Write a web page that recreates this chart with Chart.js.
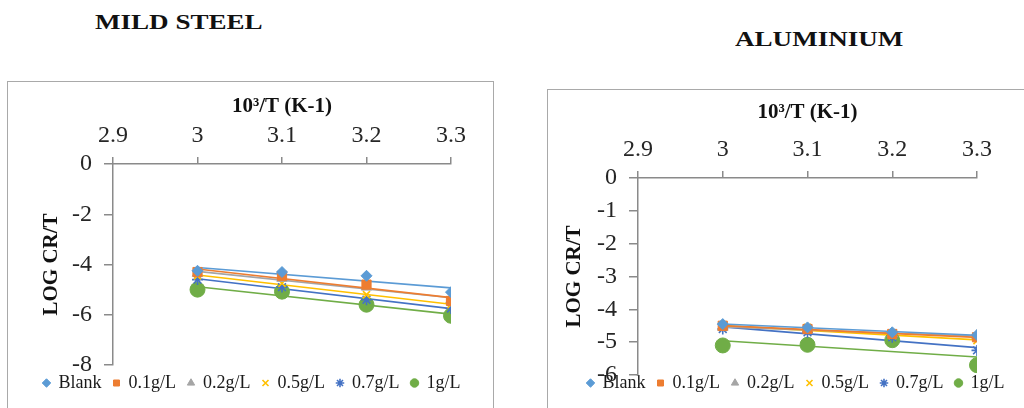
<!DOCTYPE html>
<html>
<head>
<meta charset="utf-8">
<script src="https://cdn.jsdelivr.net/npm/chart.js@4.4.0/dist/chart.umd.min.js"></script>
<style>
  html, body { margin: 0; padding: 0; background: #fff; }
  body { width: 1024px; height: 408px; overflow: hidden; position: relative; font-family: "Liberation Serif", "Times New Roman", serif; }
  .frame { position: absolute; border: 1px solid #a9a9a9; box-sizing: border-box; }
  .title { position: absolute; font-weight: bold; font-size: 22px; line-height: 22px; white-space: nowrap; color: #111;
           transform-origin: left center; transform: scaleX(1.23); }
  .panel { position: absolute; }
  canvas { display: block; }
</style>
</head>
<body>
<div class="frame" style="left:7px; top:81px; width:487px; height:360px;"></div>
<div class="frame" style="left:547px; top:89px; width:500px; height:360px;"></div>
<div class="title" style="left:95px; top:11px;">MILD STEEL</div>
<div class="title" style="left:735px; top:28px;">ALUMINIUM</div>
<div class="panel" style="left:8px; top:82px;"><canvas id="steel" width="484" height="326"></canvas></div>
<div class="panel" style="left:548px; top:90px;"><canvas id="alu" width="476" height="318"></canvas></div>

<script>
// Inhibitor concentrations and reciprocal temperature (10^3/T, K^-1)
const seriesNames = ['Blank', '0.1g/L', '0.2g/L', '0.5g/L', '0.7g/L', '1g/L'];
const invTemp = [3.0, 3.1, 3.2, 3.3];
const xTickValues = [2.9, 3.0, 3.1, 3.2, 3.3];
const steelYTicks = [0, -2, -4, -6, -8];
const aluYTicks = [0, -1, -2, -3, -4, -5, -6];

// log(CR/T) for mild steel
const steelBlank = [-4.25, -4.30, -4.45, -5.10];
const steel01 = [-4.30, -4.45, -4.80, -5.45];
const steel02 = [-4.35, -4.55, -4.90, -5.40];
const steel05 = [-4.45, -4.75, -5.20, -5.60];
const steel07 = [-4.60, -4.90, -5.40, -5.75];
const steel1 = [-5.00, -5.08, -5.60, -6.04];

// log(CR/T) for aluminium
const aluBlank = [-4.45, -4.55, -4.70, -4.78];
const alu01 = [-4.50, -4.60, -4.75, -4.85];
const alu02 = [-4.55, -4.60, -4.75, -4.80];
const alu05 = [-4.55, -4.55, -4.80, -4.95];
const alu07 = [-4.60, -4.70, -4.85, -5.25];
const alu1 = [-5.10, -5.08, -4.94, -5.70];

// marker look of each series
const seriesColors = ['#5b9bd5', '#ed7d31', '#a5a5a5', '#ffc000', '#4472c4', '#70ad47'];
const seriesMarkers = ['rectRot', 'rect', 'triangle', 'crossRot', 'star', 'circle'];
const markerRadius = [5.5, 6.5, 6, 5, 5.5, 7.5];

const SERIF = '"Liberation Serif", "Times New Roman", serif';

// least-squares straight line through a series, evaluated at the ends of the x range
function trendLine(xs, ys) {
  const n = xs.length;
  const mx = xs.reduce((a, b) => a + b, 0) / n;
  const my = ys.reduce((a, b) => a + b, 0) / n;
  let sxy = 0, sxx = 0;
  for (let i = 0; i < n; i++) { sxy += (xs[i] - mx) * (ys[i] - my); sxx += (xs[i] - mx) ** 2; }
  const slope = sxy / sxx;
  const x0 = Math.min(...xs), x1 = Math.max(...xs);
  return [{ x: x0, y: my + slope * (x0 - mx) }, { x: x1, y: my + slope * (x1 - mx) }];
}

function buildDatasets(seriesValues) {
  const points = seriesValues.map((vals, i) => ({
    label: seriesNames[i],
    data: invTemp.map((x, k) => ({ x: x, y: vals[k] })),
    showLine: false,
    pointStyle: seriesMarkers[i],
    pointRadius: markerRadius[i],
    pointBackgroundColor: seriesColors[i],
    pointBorderColor: seriesColors[i],
    pointBorderWidth: (seriesMarkers[i] === 'crossRot' || seriesMarkers[i] === 'star') ? 1.6 : 1,
    backgroundColor: seriesColors[i],
    borderColor: seriesColors[i],
    order: 0
  }));
  const lines = seriesValues.map((vals, i) => ({
    label: seriesNames[i] + ' trend',
    isTrend: true,
    data: trendLine(invTemp, vals),
    showLine: true,
    pointRadius: 0,
    borderColor: seriesColors[i],
    borderWidth: 1.6,
    order: 1
  }));
  return points.concat(lines);
}

// moves the legend row to a fixed centre once the layout is known
const legendPlace = {
  id: 'legendPlace',
  afterLayout(chart, args, opts) {
    const lg = chart.legend;
    if (!lg || opts.cx === undefined) return;
    const lp = lg.options.labels.padding;
    const fs = lg.options.labels.font.size;
    const dy = opts.cy - (lg.top + lp + fs / 2);
    const dx = opts.cx - (lg.left + lg.right) / 2;
    lg.top += dy; lg.bottom += dy;
    lg.left += dx; lg.right += dx;
  }
};

function makeChart(id, seriesValues, yTicks, g) {
  const axisGrey = '#8a8a8a';
  return new Chart(document.getElementById(id), {
    type: 'scatter',
    data: { datasets: buildDatasets(seriesValues) },
    plugins: [legendPlace],
    options: {
      responsive: false,
      animation: false,
      devicePixelRatio: 1,
      layout: { padding: { left: 0, right: 0, top: 0, bottom: g.padBottom } },
      plugins: {
        tooltip: { enabled: false },
        legendPlace: { cx: g.legendX, cy: g.legendY },
        legend: {
          position: 'bottom',
          labels: {
            usePointStyle: true,
            boxWidth: 6,
            boxHeight: 6,
            padding: 12,
            color: '#1a1a1a',
            font: { family: SERIF, size: 18 },
            filter: (item, data) => !data.datasets[item.datasetIndex].isTrend
          }
        }
      },
      scales: {
        x: {
          type: 'linear',
          position: 'top',
          min: xTickValues[0],
          max: xTickValues[xTickValues.length - 1],
          afterBuildTicks: s => { s.ticks = xTickValues.map(v => ({ value: v })); },
          afterFit: s => { s.height = g.xAxisHeight; },
          ticks: {
            autoSkip: false,
            maxRotation: 0,
            padding: 7,
            color: '#262626',
            font: { family: SERIF, size: 24 },
            callback: v => String(Math.round(v * 10) / 10)
          },
          grid: { drawOnChartArea: false, drawTicks: true, tickLength: 7, color: axisGrey, lineWidth: 1.5 },
          border: { display: true, color: axisGrey, width: 1.5 },
          title: {
            display: true,
            text: '10³/T (K-1)',
            color: '#111',
            font: { family: SERIF, size: 21, weight: 'bold' },
            padding: { top: g.xTitlePad, bottom: 0 }
          }
        },
        y: {
          type: 'linear',
          position: 'left',
          min: Math.min(...yTicks),
          max: Math.max(...yTicks),
          afterBuildTicks: s => { s.ticks = yTicks.slice().reverse().map(v => ({ value: v })); },
          afterFit: s => { s.width = g.yAxisWidth; },
          ticks: {
            autoSkip: false,
            padding: 12,
            color: '#262626',
            font: { family: SERIF, size: 24 },
            callback: v => String(v)
          },
          grid: { drawOnChartArea: false, drawTicks: true, tickLength: 9, color: axisGrey, lineWidth: 1.5 },
          border: { display: true, color: axisGrey, width: 1.5 },
          title: {
            display: true,
            text: 'LOG CR/T',
            color: '#111',
            font: { family: SERIF, size: 21, weight: 'bold' },
            padding: { top: g.yTitlePad, bottom: 0 }
          }
        },
        // empty right-hand strip that keeps the plot clear of the frame edge
        gutter: {
          type: 'linear',
          position: 'right',
          min: 0,
          max: 1,
          ticks: { display: false },
          grid: { display: false },
          border: { display: false },
          afterFit: s => { s.width = g.rightGap; }
        }
      }
    }
  });
}

makeChart('steel', [steelBlank, steel01, steel02, steel05, steel07, steel1], steelYTicks, {
  padBottom: 3, xAxisHeight: 82, yAxisWidth: 105, yTitlePad: 31, rightGap: 41, xTitlePad: 12,
  legendX: 244, legendY: 301
});

makeChart('alu', [aluBlank, alu01, alu02, alu05, alu07, alu1], aluYTicks, {
  padBottom: -7, xAxisHeight: 88, yAxisWidth: 90, yTitlePad: 14, rightGap: 47, xTitlePad: 10,
  legendX: 248, legendY: 293
});
</script>
</body>
</html>
